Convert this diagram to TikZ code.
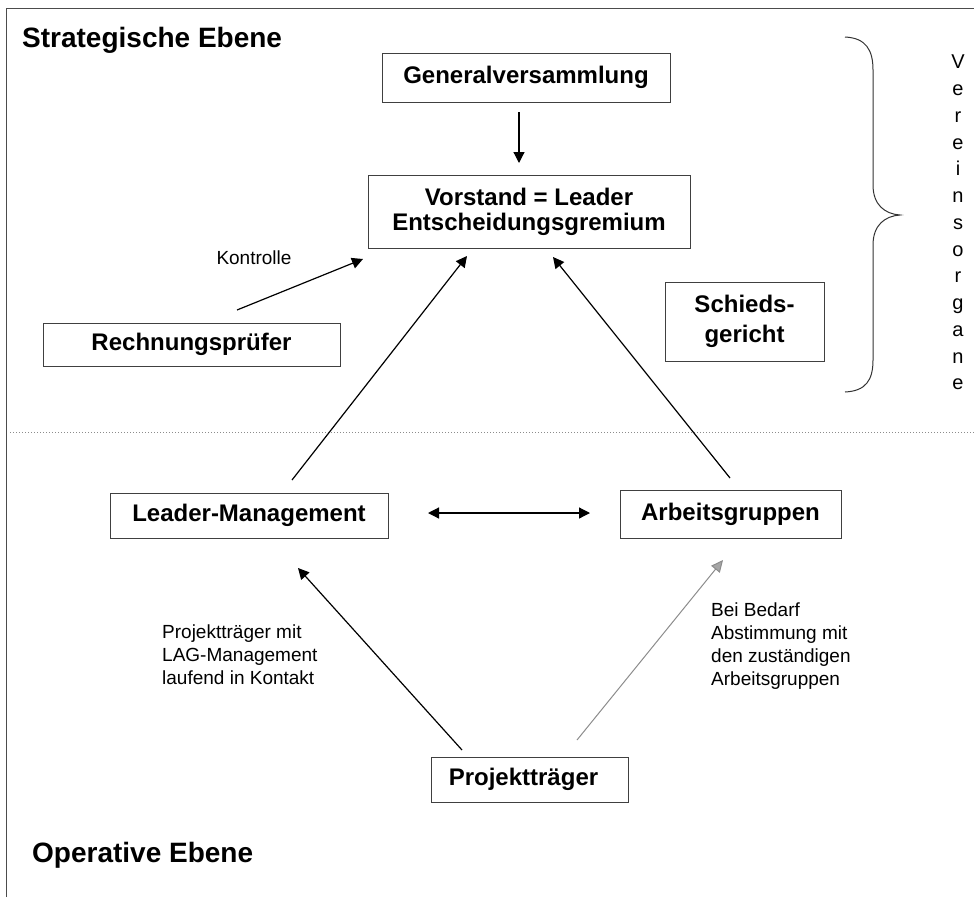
\documentclass[tikz,border=0pt]{standalone}
\usepackage{fontspec}
\setmainfont{Liberation Sans}
\usetikzlibrary{arrows.meta}
\begin{document}
\begin{tikzpicture}[x=1pt,y=-1pt,
  box/.style={draw=black!75, line width=1pt, fill=white, inner sep=0pt,
    font=\fontsize{24}{25}\selectfont\bfseries, align=center},
  lbl/.style={font=\fontsize{19}{23}\selectfont, align=left, inner sep=0pt},
  ttl/.style={font=\fontsize{28}{32}\selectfont\bfseries, inner sep=0pt, anchor=base west},
  arr/.style={line width=1.2pt, -{Triangle[length=11pt,width=11pt]}},
  grayarr/.style={line width=1pt, draw=black!45, -{Triangle[length=12pt,width=11pt,fill=black!35]}},
]
\useasboundingbox (0,0) rectangle (974,897);
% frame
\draw[black!70, line width=1pt] (6,897) -- (6,8) -- (974,8);
% level separator
\draw[black!45, line width=1pt, dotted] (10,432) -- (974,432);

% titles
\node[ttl] (strat) at (22,47) {Strategische Ebene};
\node[ttl] (oper) at (32,862) {Operative Ebene};

% boxes
\node[box, minimum width=288pt, minimum height=49pt] (gv) at (526,77.5) {Generalversammlung};
\node[box, minimum width=322pt, minimum height=73pt] (vs) at (529,211.5) {Vorstand = Leader\\Entscheidungsgremium};
\node[box, minimum width=297pt, minimum height=43pt] (rp) at (191.5,344.5) {Rechnungsprüfer};
\node[box, minimum width=159pt, minimum height=79pt, font=\fontsize{24}{30}\selectfont\bfseries] (sg) at (744.5,321.5) {Schieds-\\gericht};
\node[box, minimum width=278pt, minimum height=45pt] (lm) at (249,515.5) {Leader-Management};
\node[box, minimum width=221pt, minimum height=48pt] (ag) at (730.5,514) {Arbeitsgruppen};
\node[box, minimum width=197pt, minimum height=45pt] (pt) at (529.5,779.5) {Projektträger\hspace{12pt}};

% labels
\node[lbl, anchor=center] (kontrolle) at (254,258) {Kontrolle};
\node[lbl, anchor=west] (ptlbl) at (162,655) {Projektträger mit\\LAG-Management\\laufend in Kontakt};
\node[lbl, anchor=west] (agl) at (711,646) {Bei Bedarf\\Abstimmung mit\\den zuständigen\\Arbeitsgruppen};

% brace and vertical label
\draw[black!80, line width=1pt] (845,37) .. controls (866,38) and (873,50) .. (873,70)
  -- (873,185) .. controls (873,205) and (885,214) .. (900,215)
  .. controls (885,216) and (873,225) .. (873,245)
  -- (873,360) .. controls (873,380) and (866,391) .. (845,392);
\node[font=\fontsize{20}{26.75}\selectfont, align=center, inner sep=0pt] (vo) at (958,222.5)
  {V\\e\\r\\e\\i\\n\\s\\o\\r\\g\\a\\n\\e};

% connector end points
\coordinate (gvA) at (519,112);   \coordinate (vsA) at (519,163);
\coordinate (rpA) at (237,310);   \coordinate (vsB) at (363,259);
\coordinate (lmA) at (292,480);   \coordinate (vsC) at (467,256);
\coordinate (agA) at (730,478);   \coordinate (vsD) at (553,257);
\coordinate (lmB) at (428,513);   \coordinate (agB) at (590,513);
\coordinate (ptA) at (462,750);   \coordinate (lmC) at (298,568);
\coordinate (ptB) at (577,740);   \coordinate (agC) at (723,560);

\draw[arr] (gvA) -- (vsA);
\draw[arr] (rpA) -- (vsB);
\draw[arr] (lmA) -- (vsC);
\draw[arr] (agA) -- (vsD);
\draw[line width=1.2pt, {Triangle[length=11pt,width=11pt]}-{Triangle[length=11pt,width=11pt]}] (lmB) -- (agB);
\draw[arr] (ptA) -- (lmC);
\draw[grayarr] (ptB) -- (agC);
\end{tikzpicture}
\end{document}
